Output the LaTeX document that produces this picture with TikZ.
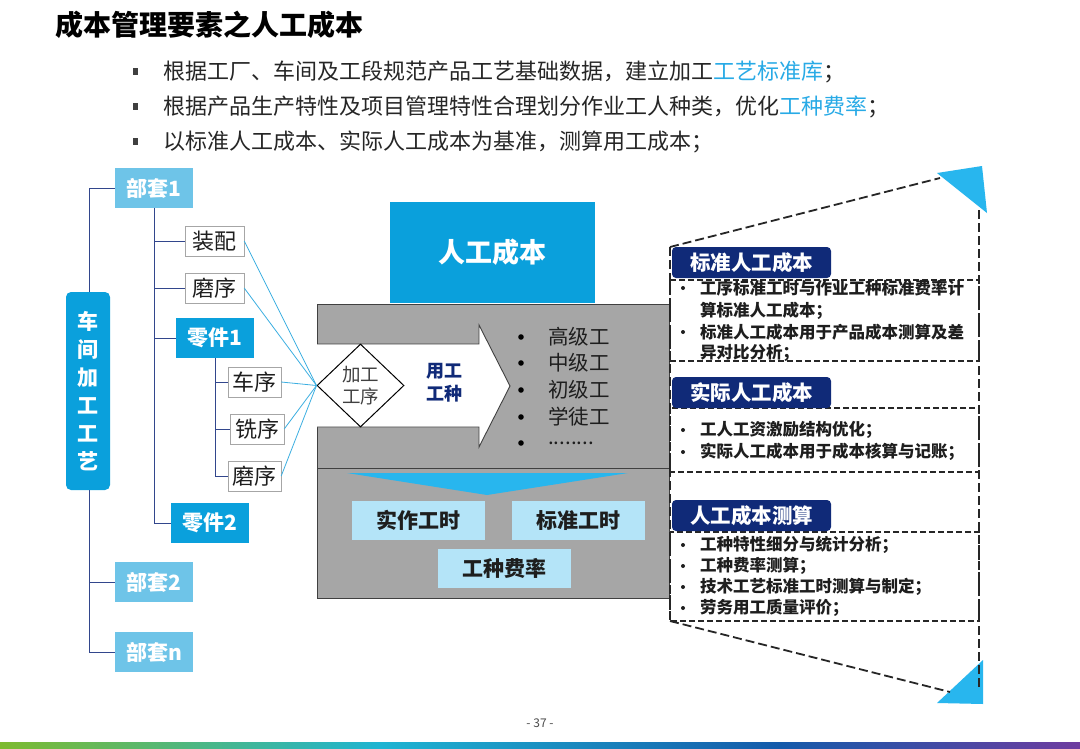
\documentclass[tikz,border=0pt]{standalone}
\usepackage{fontspec}
\setmainfont{Noto Sans CJK SC}
\usetikzlibrary{shapes.geometric}
\definecolor{mainblue}{RGB}{10,160,220}
\definecolor{lightblue}{RGB}{110,196,232}
\definecolor{navy}{RGB}{16,42,120}
\definecolor{paleblue}{RGB}{180,228,248}
\definecolor{boxgray}{RGB}{166,166,166}
\definecolor{triblue}{RGB}{40,182,238}
\definecolor{treeline}{RGB}{50,70,140}
\definecolor{conn}{RGB}{60,175,225}
\definecolor{hl}{RGB}{40,170,230}
\definecolor{txt}{RGB}{30,30,30}
\tikzset{
  bluebox/.style={fill=mainblue, text=white, inner sep=0pt, font=\fontsize{21}{21}\selectfont\bfseries},
  ltbox/.style={fill=lightblue, text=white, inner sep=0pt, minimum width=78pt, minimum height=40pt, font=\fontsize{21}{21}\selectfont\bfseries},
  opbox/.style={draw=gray!70, fill=white, text=txt, inner sep=0pt, minimum height=30pt, font=\fontsize{22}{22}\selectfont},
  palebox/.style={fill=paleblue, text=txt, inner sep=0pt, minimum width=133pt, minimum height=39pt, font=\fontsize{21}{21}\selectfont\bfseries},
  hdr/.style={fill=navy, text=white, rounded corners=4pt, inner sep=0pt, minimum width=159pt, minimum height=31pt, font=\fontsize{20.5}{20.5}\selectfont\bfseries},
  tl/.style={draw=treeline, line width=0.9pt},
  cl/.style={draw=conn, line width=0.8pt},
  dsh/.style={draw=black!85, dash pattern=on 9pt off 4pt, line width=1.8pt},
  dbox/.style={draw=black!85, dash pattern=on 6pt off 3pt, line width=1.4pt},
  rtxt/.style={anchor=west, text=txt, inner sep=0pt, font=\fontsize{16.5}{16.5}\selectfont\bfseries},
  topb/.style={anchor=west, text=black!85, inner sep=0pt, font=\fontsize{22}{22}\selectfont},
  lvtxt/.style={anchor=west, inner sep=0pt, text=txt, font=\fontsize{20.5}{20.5}\selectfont},
}
\begin{document}
\begin{tikzpicture}[x=1pt,y=-1pt]
\useasboundingbox (0,0) rectangle (1080,748);
\fill[white] (0,0) rectangle (1080,748);

% title and bullets
\node[anchor=west, inner sep=0pt, font=\fontsize{28}{28}\selectfont\bfseries, text=black] (title) at (55,25) {成本管理要素之人工成本};
\foreach \y in {72,107,142} \fill[black!75] (133,\y-4) rectangle (138,\y+3);
\node[topb] (t1) at (163,72) {根据工厂、车间及工段规范产品工艺基础数据，建立加工\textcolor{hl}{工艺标准库}；};
\node[topb] (t2) at (163,107) {根据产品生产特性及项目管理特性合理划分作业工人种类，优化\textcolor{hl}{工种费率}；};
\node[topb] (t3) at (163,142) {以标准人工成本、实际人工成本为基准，测算用工成本；};

% ---------- left tree ----------
\node[ltbox] (b1) at (154,188) {部套1};
\node[ltbox] (b2) at (154,582) {部套2};
\node[ltbox] (bn) at (154,652) {部套n};
\node[opbox, minimum width=59pt] (zp) at (214.5,241) {装配};
\node[opbox, minimum width=59pt] (ms1) at (214.5,288) {磨序};
\node[bluebox, minimum width=78pt, minimum height=40pt] (lj1) at (215,338) {零件1};
\node[bluebox, minimum width=78pt, minimum height=40pt] (lj2) at (210,523) {零件2};
\node[opbox, minimum width=53pt] (cx) at (254.5,382) {车序};
\node[opbox, minimum width=54pt] (xx) at (257,429) {铣序};
\node[opbox, minimum width=53pt] (ms2) at (254.5,476) {磨序};

\draw[tl] (b1.west) -- ++(-25,0) coordinate (v1) -- (v1 |- bn.west) -- (bn.west);
\draw[tl] (v1 |- b2.west) -- (b2.west);
\draw[tl] (b1.south) -- (b1.south |- lj2.west) -- (lj2.west);
\draw[tl] (b1.south |- zp.west) -- (zp.west);
\draw[tl] (b1.south |- ms1.west) -- (ms1.west);
\draw[tl] (b1.south |- lj1.west) -- (lj1.west);
\draw[tl] (lj1.south) -- (lj1.south |- ms2.west) -- (ms2.west);
\draw[tl] (lj1.south |- cx.west) -- (cx.west);
\draw[tl] (lj1.south |- xx.west) -- (xx.west);

\node[bluebox, rounded corners=5pt, minimum width=44pt, minimum height=198pt, align=center, font=\fontsize{21}{28}\selectfont\bfseries] (vbox) at (88,391) {车\\间\\加\\工\\工\\艺};

% ---------- center ----------
\node[bluebox, minimum width=205pt, minimum height=101pt, font=\fontsize{27}{27}\selectfont\bfseries] (rgcb) at (492.5,252.5) {人工成本};
\draw[fill=boxgray, draw=black!75, line width=0.9pt] (317,304) rectangle (669,468);
\draw[fill=boxgray, draw=black!75, line width=0.9pt] (317,468) rectangle (669,598);
\fill[white] (317,344) -- (479,344) -- (479,325) -- (510,386) -- (479,447) -- (479,427) -- (317,427) -- cycle;
\draw[black!75, line width=0.9pt] (317,344) -- (479,344) -- (479,325) -- (510,386) -- (479,447) -- (479,427) -- (317,427);
\node[draw=black, fill=white, line width=1pt, shape=diamond, minimum width=87pt, minimum height=83pt, inner sep=0pt, align=center, text=black!75, font=\fontsize{18.5}{22}\selectfont] (dia) at (360.5,385.5) {加工\\工序};
\node[align=center, text=navy, inner sep=0pt, font=\fontsize{18}{23}\selectfont\bfseries] (ygz) at (444,383) {用工\\工种};

\foreach \y/\t [count=\i] in {337/高级工, 363/中级工, 390/初级工, 417/学徒工} {
  \fill[black] (521,\y) circle (2.8pt);
  \node[lvtxt] (lv\i) at (548,\y) {\t};
}
\fill[black] (521,443) circle (2.8pt);
\node[lvtxt] (lv5) at (548,443) {........};

\fill[triblue] (347,473) -- (628,473) -- (487,495) -- cycle;
\node[palebox] (szgs) at (418.5,520.5) {实作工时};
\node[palebox] (bzgs) at (578.5,520.5) {标准工时};
\node[palebox] (gzfl) at (504.5,568.5) {工种费率};

% connectors to diamond
\foreach \n in {zp,ms1,cx,xx,ms2} \draw[cl] (\n.east) -- (dia.west);

% ---------- right panel ----------
\fill[triblue] (937,173) -- (982,166) -- (987,213) -- cycle;
\fill[triblue] (937,703) -- (983,660) -- (983,704) -- cycle;
\draw[dsh] (670,247) -- (940,178);
\draw[dsh] (979,210) -- (979,690);
\draw[dsh] (670,621) -- (950,692);
\draw[dsh] (670,247) -- (670,621);
\draw[dbox] (670,280) rectangle (979,361);
\draw[dbox] (670,408) rectangle (979,472);
\draw[dbox] (670,532) rectangle (979,621);

\node[hdr] (h1) at (751.5,262.5) {标准人工成本};
\node[hdr] (h2) at (751.5,392.5) {实际人工成本};
\node[hdr] (h3) at (751.5,515.5) {人工成本测算};

\foreach \y/\b/\t [count=\i] in {
  288/1/工序标准工时与作业工种标准费率计,
  311/0/算标准人工成本；,
  332/1/标准人工成本用于产品成本测算及差,
  353/0/异对比分析；,
  430/1/工人工资激励结构优化；,
  452/1/实际人工成本用于成本核算与记账；,
  545/1/工种特性细分与统计分析；,
  566/1/工种费率测算；,
  587/1/技术工艺标准工时测算与制定；,
  608/1/劳务用工质量评价；} {
  \node[rtxt] (r\i) at (700,\y) {\t};
  \ifnum\b=1 \fill[txt] (683,\y) circle (2pt);\fi
}

% footer
\node[inner sep=0pt, text=black!70, font=\fontsize{12}{12}\selectfont] (pg) at (540,723) {- 37 -};
\shade[left color={rgb,255:red,125;green,186;blue,47}, right color={rgb,255:red,30;green,180;blue,210}] (0,742) rectangle (380,748);
\shade[left color={rgb,255:red,30;green,180;blue,210}, right color={rgb,255:red,20;green,90;blue,170}] (380,742) rectangle (780,748);
\shade[left color={rgb,255:red,20;green,90;blue,170}, right color={rgb,255:red,110;green,60;blue,160}] (780,742) rectangle (1080,748);
\end{tikzpicture}
\end{document}
